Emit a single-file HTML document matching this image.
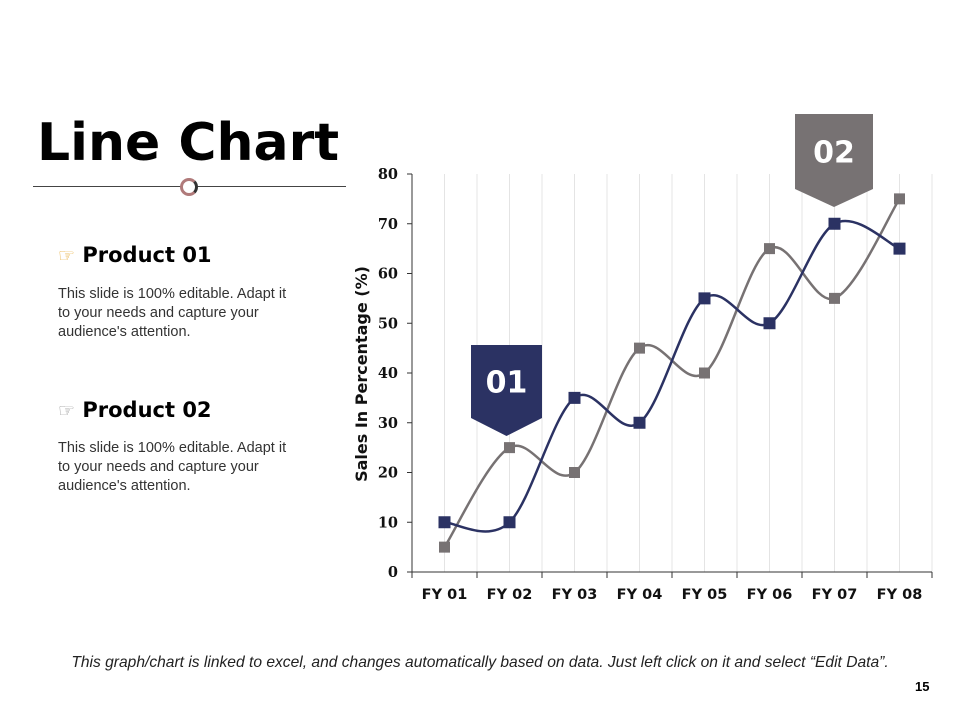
<!DOCTYPE html>
<html><head><meta charset="utf-8"><style>
body{margin:0;width:960px;height:720px;background:#fff;overflow:hidden;position:relative;font-family:"Liberation Sans",sans-serif}
.abs{position:absolute}
h1{position:absolute;left:37px;top:113px;margin:0;font:bold 52px "DejaVu Sans",sans-serif;color:#000}
.ph{font:bold 21px "DejaVu Sans",sans-serif;color:#000}
.pt{font-size:14.5px;color:#333;line-height:19px;width:238px}
</style></head><body>
<h1>Line Chart</h1>
<div class="abs" style="left:33px;top:186px;width:313px;height:1px;background:#444"></div>
<div class="abs" style="left:180px;top:178px;width:12px;height:12px;border-radius:50%;border:3px solid #b07a7a;border-right-color:#333;background:#fff"></div>

<div class="abs ph" style="left:58px;top:243px"><span style="color:#e8b040;font-size:19px">☞</span>&nbsp;Product 01</div>
<div class="abs pt" style="left:58px;top:285px">This slide is 100% editable. Adapt it to your needs and capture your audience's attention.</div>
<div class="abs ph" style="left:58px;top:398px"><span style="color:#999;font-size:19px">☞</span>&nbsp;Product 02</div>
<div class="abs pt" style="left:58px;top:439px">This slide is 100% editable. Adapt it to your needs and capture your audience's attention.</div>

<div class="abs" style="left:0;width:960px;top:654px;text-align:center;font-style:italic;font-size:15.6px;color:#222">This graph/chart is linked to excel, and changes automatically based on data. Just left click on it and select “Edit Data”.</div>
<div class="abs" style="left:915px;top:679px;font:bold 13px 'Liberation Sans',sans-serif">15</div>

<svg id="chart" class="abs" style="left:0;top:0" width="960" height="720"></svg>
<script>
const categories=["FY 01","FY 02","FY 03","FY 04","FY 05","FY 06","FY 07","FY 08"];
const product01=[10,10,35,30,55,50,70,65];
const product02=[5,25,20,45,40,65,55,75];
const yTicks=[0,10,20,30,40,50,60,70,80];
const X0=412,X1=932,Y0=572,Y1=174,YMAX=80;
const bw=(X1-X0)/categories.length;
function xAt(i){return X0+bw*(i+0.5);}
function yAt(v){return Y0-(v/YMAX)*(Y0-Y1);}
const svg=document.getElementById('chart');
const NS="http://www.w3.org/2000/svg";
function mk(t,a,p){const e=document.createElementNS(NS,t);for(const k in a)e.setAttribute(k,a[k]);(p||svg).appendChild(e);return e;}
for(let i=1;i<=categories.length*2;i++){const x=X0+bw*i/2;const g=mk('line',{x1:x,x2:x,y1:Y1,y2:Y0,stroke:'#e4e4e4','stroke-width':1});

}
const ya=mk('line',{x1:X0,x2:X0,y1:Y1,y2:Y0,stroke:'#333'});


const xa=mk('line',{x1:X0,x2:X1,y1:Y0,y2:Y0,stroke:'#333'});


yTicks.forEach(v=>{const y=yAt(v);mk('line',{x1:X0-5,x2:X0,y1:y,y2:y,stroke:'#333'});
const t=mk('text',{x:X0-14,y:y+5,'text-anchor':'end','font-family':'DejaVu Serif, serif','font-weight':'bold','font-size':14.5,fill:'#111'});t.textContent=v;

});
categories.forEach((c,i)=>{const x=X0+bw*(i+1);mk('line',{x1:x,x2:x,y1:Y0,y2:Y0+6,stroke:'#333'});
const t=mk('text',{x:xAt(i),y:Y0+27,'text-anchor':'middle','font-family':'DejaVu Sans, sans-serif','font-weight':'bold','font-size':14.5,fill:'#111'});t.textContent=c;

});
mk('line',{x1:X0,x2:X0,y1:Y0,y2:Y0+6,stroke:'#333'});
const yt=mk('text',{x:0,y:0,transform:'translate(367,374) rotate(-90)','text-anchor':'middle','font-family':'DejaVu Sans, sans-serif','font-weight':'bold','font-size':16,fill:'#111'});yt.textContent='Sales In Percentage (%)';


function curve(vals){const p=vals.map((v,i)=>[xAt(i),yAt(v)]);let d=`M${p[0][0]},${p[0][1]}`;
for(let i=0;i<p.length-1;i++){const p0=p[Math.max(i-1,0)],p1=p[i],p2=p[i+1],p3=p[Math.min(i+2,p.length-1)];
const t=1/3;const c1=[p1[0]+(p2[0]-p0[0])*t/2,p1[1]+(p2[1]-p0[1])*t/2],c2=[p2[0]-(p3[0]-p1[0])*t/2,p2[1]-(p3[1]-p1[1])*t/2];
d+=` C${c1[0]},${c1[1]} ${c2[0]},${c2[1]} ${p2[0]},${p2[1]}`;}return d;}
function series(vals,color,name,sz){const l=mk('path',{d:curve(vals),fill:'none',stroke:color,'stroke-width':2.5});


vals.forEach((v,i)=>{const r=mk('rect',{x:xAt(i)-sz/2,y:yAt(v)-sz/2,width:sz,height:sz,fill:color});

});}
series(product02,'#777273','product-02',11);
series(product01,'#2b3263','product-01',12);
function badge(x,y,w,h,tip,color,label,name){const g=mk('g',{});


mk('path',{d:`M${x},${y} h${w} v${h} l${-w/2},${tip} l${-w/2},${-tip} Z`,fill:color},g);
const t=mk('text',{x:x+w/2,y:y+h/2+11,'text-anchor':'middle','font-family':'DejaVu Sans, sans-serif','font-weight':'bold','font-size':30,fill:'#fff'},g);t.textContent=label;}
badge(471,345,71,73,18,'#2b3263','01','badge-01');
badge(795,114,78,75,18,'#777273','02','badge-02');
</script>
</body></html>
